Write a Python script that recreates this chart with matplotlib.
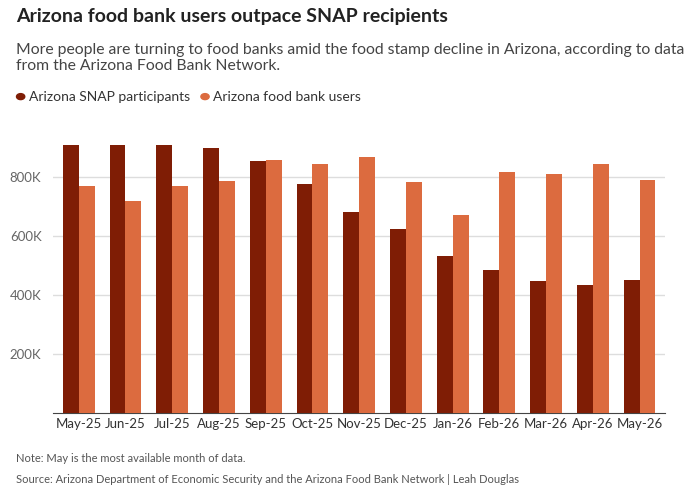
import matplotlib
matplotlib.use('Agg')
import matplotlib.pyplot as plt
import numpy as np

plt.rcParams['font.family'] = ['Lato', 'DejaVu Sans']

months = ['May-25', 'Jun-25', 'Jul-25', 'Aug-25', 'Sep-25', 'Oct-25', 'Nov-25',
          'Dec-25', 'Jan-26', 'Feb-26', 'Mar-26', 'Apr-26', 'May-26']
snap = [909, 908, 908, 896, 854, 774, 679, 624, 531, 484, 448, 434, 451]
food_bank = [769, 717, 770, 784, 855, 844, 866, 782, 671, 817, 809, 843, 789]
yticks = [200, 400, 600, 800]

DARK = '#7f1d05'
LIGHT = '#dc6b3f'

fig = plt.figure(figsize=(6.88, 4.98), dpi=100)
ax = fig.add_axes([0.077, 0.171, 0.89, 0.569])

x = np.arange(len(months))
w = 0.34
ax.bar(x - w / 2, snap, w, color=DARK, zorder=3)
ax.bar(x + w / 2, food_bank, w, color=LIGHT, zorder=3)

ax.set_xlim(-0.55, len(months) - 0.45)
ax.set_ylim(0, 960)
ax.set_yticks(yticks)
ax.set_yticklabels([f'{v}K' for v in yticks])
ax.set_xticks(x)
ax.set_xticklabels(months)
ax.grid(axis='y', color='#dddddd', linewidth=1, zorder=0)
for s in ['top', 'right', 'left']:
    ax.spines[s].set_visible(False)
ax.spines['bottom'].set_color('#444444')
ax.tick_params(axis='y', length=0, labelsize=9.5, labelcolor='#666666', pad=-2)
ax.tick_params(axis='x', length=0, labelsize=9.5, labelcolor='#333333', pad=4)
for lbl in ax.get_yticklabels():
    lbl.set_horizontalalignment('left')
    lbl.set_x(-0.075)

fig.text(0.023, 0.955, 'Arizona food bank users outpace SNAP recipients',
         fontsize=14, fontweight='bold', color='#222222')
fig.text(0.023, 0.86, 'More people are turning to food banks amid the food stamp decline in Arizona, according to data\nfrom the Arizona Food Bank Network.',
         fontsize=11.3, color='#444444', linespacing=1.2)

fig.patches.append(matplotlib.patches.Circle((0.03, 0.806), 0.006, color=DARK, transform=fig.transFigure, figure=fig))
fig.text(0.042, 0.806, 'Arizona SNAP participants', fontsize=10, color='#333333', va='center')
fig.patches.append(matplotlib.patches.Circle((0.298, 0.806), 0.006, color=LIGHT, transform=fig.transFigure, figure=fig))
fig.text(0.31, 0.806, 'Arizona food bank users', fontsize=10, color='#333333', va='center')

fig.text(0.023, 0.073, 'Note: May is the most available month of data.', fontsize=8, color='#555555')
fig.text(0.023, 0.03, 'Source: Arizona Department of Economic Security and the Arizona Food Bank Network | Leah Douglas',
         fontsize=8, color='#555555')

fig.savefig('out.png', dpi=100)
